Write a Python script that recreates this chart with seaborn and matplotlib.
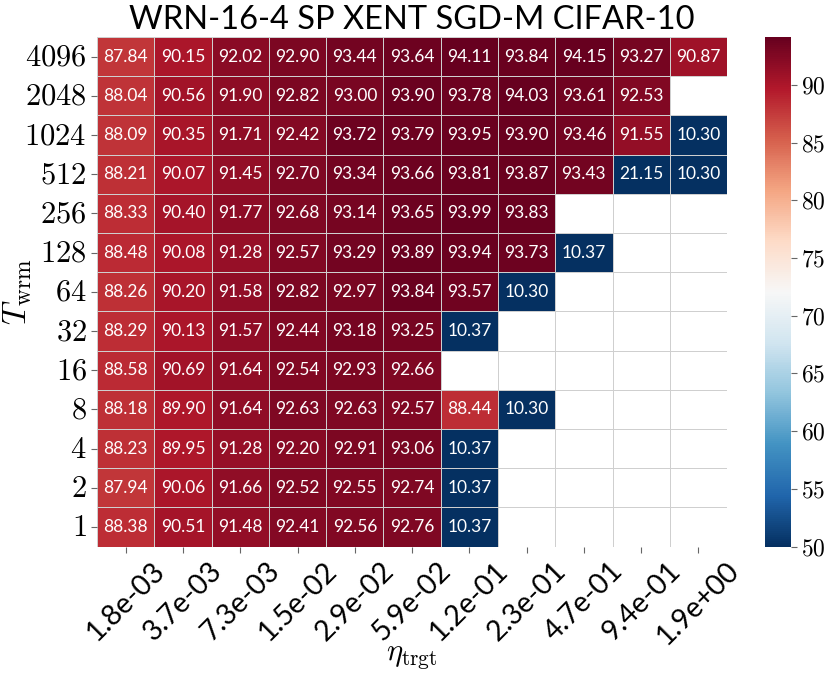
import numpy as np
import pandas as pd
import matplotlib
matplotlib.use("Agg")
import matplotlib.pyplot as plt
from matplotlib.ticker import FuncFormatter
import seaborn as sns

# learning rates (columns) and warmup lengths (rows, top to bottom)
eta_labels = ["1.8e-03", "3.7e-03", "7.3e-03", "1.5e-02", "2.9e-02", "5.9e-02",
              "1.2e-01", "2.3e-01", "4.7e-01", "9.4e-01", "1.9e+00"]
twrm_labels = ["4096", "2048", "1024", "512", "256", "128", "64", "32", "16", "8", "4", "2", "1"]

nan = np.nan
acc_4096 = [87.84, 90.15, 92.02, 92.90, 93.44, 93.64, 94.11, 93.84, 94.15, 93.27, 90.87]
acc_2048 = [88.04, 90.56, 91.90, 92.82, 93.00, 93.90, 93.78, 94.03, 93.61, 92.53, nan]
acc_1024 = [88.09, 90.35, 91.71, 92.42, 93.72, 93.79, 93.95, 93.90, 93.46, 91.55, 10.30]
acc_512 = [88.21, 90.07, 91.45, 92.70, 93.34, 93.66, 93.81, 93.87, 93.43, 21.15, 10.30]
acc_256 = [88.33, 90.40, 91.77, 92.68, 93.14, 93.65, 93.99, 93.83, nan, nan, nan]
acc_128 = [88.48, 90.08, 91.28, 92.57, 93.29, 93.89, 93.94, 93.73, 10.37, nan, nan]
acc_64 = [88.26, 90.20, 91.58, 92.82, 92.97, 93.84, 93.57, 10.30, nan, nan, nan]
acc_32 = [88.29, 90.13, 91.57, 92.44, 93.18, 93.25, 10.37, nan, nan, nan, nan]
acc_16 = [88.58, 90.69, 91.64, 92.54, 92.93, 92.66, nan, nan, nan, nan, nan]
acc_8 = [88.18, 89.90, 91.64, 92.63, 92.63, 92.57, 88.44, 10.30, nan, nan, nan]
acc_4 = [88.23, 89.95, 91.28, 92.20, 92.91, 93.06, 10.37, nan, nan, nan, nan]
acc_2 = [87.94, 90.06, 91.66, 92.52, 92.55, 92.74, 10.37, nan, nan, nan, nan]
acc_1 = [88.38, 90.51, 91.48, 92.41, 92.56, 92.76, 10.37, nan, nan, nan, nan]

df = pd.DataFrame([acc_4096, acc_2048, acc_1024, acc_512, acc_256, acc_128, acc_64,
                   acc_32, acc_16, acc_8, acc_4, acc_2, acc_1],
                  index=twrm_labels, columns=eta_labels)

plt.rcParams["mathtext.fontset"] = "cm"
plt.rcParams["font.family"] = ["Lato", "DejaVu Sans"]

fig = plt.figure(figsize=(8.3, 6.74), dpi=100)
ax = fig.add_axes([0.117, 0.189, 0.759, 0.756])
cax = fig.add_axes([0.922, 0.189, 0.031, 0.756])

# white background grid so empty cells still show borders
sns.heatmap(np.zeros(df.shape), ax=ax, cmap=["white"], cbar=False,
            linewidths=0.7, linecolor="#dcdcdc", xticklabels=False, yticklabels=False)

sns.heatmap(df, ax=ax, cbar_ax=cax, cmap="RdBu_r", vmin=50, mask=df.isna(),
            annot=True, fmt=".2f", annot_kws={"fontsize": 12.5, "color": "white"},
            linewidths=0.7, linecolor="#cfcfcf")

ax.set_xticklabels(eta_labels, rotation=45, fontsize=20.5)
ax.set_yticklabels([r"$%s$" % s for s in twrm_labels], rotation=0, fontsize=22)
ax.tick_params(axis="both", length=4, color="#666666")
ax.set_xlabel(r"$\eta_{\rm trgt}$", fontsize=22)
ax.xaxis.set_label_coords(0.5, -0.19)
ax.set_ylabel(r"$T_{\rm wrm}$", fontsize=24)
ax.yaxis.set_label_coords(-0.1, 0.5)
ax.set_title("WRN-16-4 SP XENT SGD-M CIFAR-10", fontsize=23.5, pad=6)

cax.set_yticks([50, 55, 60, 65, 70, 75, 80, 85, 90])
cax.yaxis.set_major_formatter(FuncFormatter(lambda v, p: r"$%d$" % v))
cax.tick_params(labelsize=17, length=4, color="#666666")

fig.savefig("out.png", dpi=100)
